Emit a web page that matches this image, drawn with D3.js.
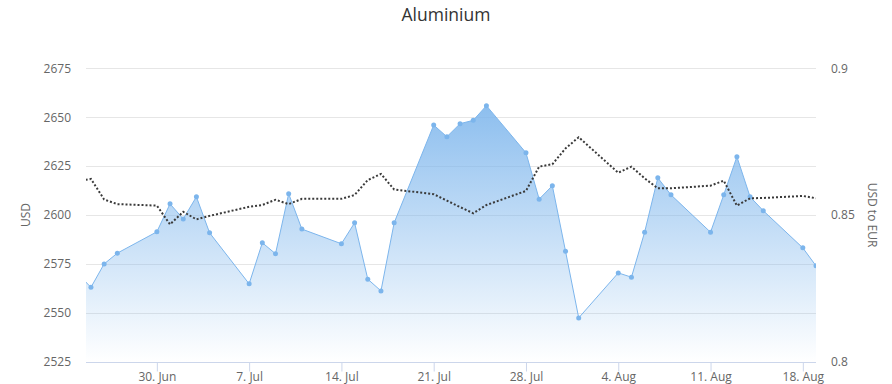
<!DOCTYPE html>
<html>
<head>
<meta charset="utf-8">
<script src="https://cdn.jsdelivr.net/npm/d3@7"></script>
<style>
  html, body { margin: 0; padding: 0; background: #fff; }
  svg { display: block; font-family: "Open Sans", "DejaVu Sans", sans-serif; }
</style>
</head>
<body>
<svg id="chart" width="892" height="384"></svg>
<script>
const dates = ["2025-06-24","2025-06-25","2025-06-26","2025-06-27","2025-06-30",
  "2025-07-01","2025-07-02","2025-07-03","2025-07-04","2025-07-07","2025-07-08","2025-07-09","2025-07-10","2025-07-11",
  "2025-07-14","2025-07-15","2025-07-16","2025-07-17","2025-07-18","2025-07-21","2025-07-22","2025-07-23","2025-07-24","2025-07-25",
  "2025-07-28","2025-07-29","2025-07-30","2025-07-31","2025-08-01","2025-08-04","2025-08-05","2025-08-06","2025-08-07","2025-08-08",
  "2025-08-11","2025-08-12","2025-08-13","2025-08-14","2025-08-15","2025-08-18","2025-08-19"];
const aluminiumUSD = [2570,2563,2575,2580.5,2591.4,
  2605.7,2598,2609.3,2590.9,2564.8,2585.8,2580.2,2610.9,2592.8,
  2585.3,2596,2567.2,2561.2,2596,2646,2640,2646.7,2648.4,2655.9,
  2631.8,2608.1,2615,2581.5,2547.4,2570.4,2568.2,2591.2,2619,2610.3,
  2591.2,2610.3,2629.8,2609.3,2602.2,2583.2,2574];
const usdToEur = [0.8615,0.8623,0.8553,0.8537,0.8532,
  0.8468,0.8511,0.8485,0.8497,0.8528,0.8534,0.8552,0.8537,0.8555,
  0.8555,0.8568,0.8619,0.8640,0.8587,0.8571,0.8549,0.8527,0.8506,0.8534,
  0.8582,0.8665,0.8673,0.8727,0.8765,0.8644,0.8665,0.8625,0.8591,0.8591,
  0.8600,0.8617,0.8532,0.8557,0.8558,0.8565,0.8557];
const leftTicks = [2525,2550,2575,2600,2625,2650,2675];
const rightTicks = [0.8,0.85,0.9];
const xTickDates = ["2025-06-30","2025-07-07","2025-07-14","2025-07-21","2025-07-28","2025-08-04","2025-08-11","2025-08-18"];
const xTickLabels = ["30. Jun","7. Jul","14. Jul","21. Jul","28. Jul","4. Aug","11. Aug","18. Aug"];

const parse = d3.utcParse("%Y-%m-%d");
const data = dates.map((d,i) => ({date: parse(d), al: aluminiumUSD[i], fx: usdToEur[i]}));

const svg = d3.select("#chart");
const L = 86, R = 816, T = 68.3, B = 361.7;

const x = d3.scaleUtc()
  .domain([new Date(Date.UTC(2025,5,24,15)), new Date(Date.UTC(2025,7,19,0))])
  .range([L, R]);
const y = d3.scaleLinear().domain([2525, 2675]).range([B, T]);
const y2 = d3.scaleLinear().domain([0.8, 0.9]).range([B, T]);

const defs = svg.append("defs");
const grad = defs.append("linearGradient").attr("id","areaGrad")
  .attr("gradientUnits","userSpaceOnUse").attr("x1",0).attr("x2",0).attr("y1",T).attr("y2",B);
grad.append("stop").attr("offset","0%").attr("stop-color","#7cb5ec").attr("stop-opacity",1);
grad.append("stop").attr("offset","100%").attr("stop-color","#7cb5ec").attr("stop-opacity",0);
defs.append("clipPath").attr("id","plotClip").append("rect")
  .attr("x",L).attr("y",T-10).attr("width",R-L).attr("height",B-T+10);

// title
svg.append("text").attr("x",446).attr("y",21).attr("text-anchor","middle")
  .attr("font-size",17.5).attr("fill","#333333").text("Aluminium");

// gridlines
const grid = svg.append("g");
leftTicks.forEach(t => {
  if (t === 2525) return;
  grid.append("line").attr("x1",L).attr("x2",R)
    .attr("y1",Math.round(y(t))+0.5).attr("y2",Math.round(y(t))+0.5)
    .attr("stroke","#e6e6e6").attr("stroke-width",1);
});

// left axis labels
const leftAxis = d3.axisLeft(y).tickValues(leftTicks).tickSize(0).tickPadding(15).tickFormat(d3.format("d"));
const gL = svg.append("g").attr("transform",`translate(${L},0)`).call(leftAxis);
gL.select(".domain").remove();
gL.selectAll("text").attr("font-size",12).attr("fill","#666666").attr("font-family","Open Sans, sans-serif");

// right axis labels
const rightAxis = d3.axisRight(y2).tickValues(rightTicks).tickSize(0).tickPadding(15).tickFormat(d => d3.format("")(d));
const gR = svg.append("g").attr("transform",`translate(${R},0)`).call(rightAxis);
gR.select(".domain").remove();
gR.selectAll("text").attr("font-size",12).attr("fill","#666666").attr("font-family","Open Sans, sans-serif");

// x axis
const xAxis = d3.axisBottom(x).tickValues(xTickDates.map(parse)).tickSize(9).tickPadding(1)
  .tickFormat((d,i) => xTickLabels[i]);
const gX = svg.append("g").attr("transform",`translate(0,${Math.round(B)+0.5})`).call(xAxis);
gX.select(".domain").attr("stroke","#ccd6eb").attr("d",`M${L},0H${R}`);
gX.selectAll(".tick line").attr("stroke","#ccd6eb");
gX.selectAll("text").attr("font-size",12).attr("fill","#666666").attr("font-family","Open Sans, sans-serif");

// axis titles
svg.append("text").attr("transform",`translate(30,${(T+B)/2}) rotate(-90)`)
  .attr("text-anchor","middle").attr("font-size",12).attr("fill","#666666").text("USD");
svg.append("text").attr("transform",`translate(868,${(T+B)/2}) rotate(90)`)
  .attr("text-anchor","middle").attr("font-size",12).attr("fill","#666666").text("USD to EUR");

const plot = svg.append("g").attr("clip-path","url(#plotClip)");

const area = d3.area().x(d => x(d.date)).y0(B).y1(d => y(d.al));
plot.append("path").datum(data).attr("d",area).attr("fill","url(#areaGrad)");
const line = d3.line().x(d => x(d.date)).y(d => y(d.al));
plot.append("path").datum(data).attr("d",line).attr("fill","none").attr("stroke","#7cb5ec").attr("stroke-width",1);
plot.selectAll("circle.m").data(data).enter().append("circle").attr("class","m")
  .attr("cx",d => x(d.date)).attr("cy",d => y(d.al)).attr("r",2.5).attr("fill","#7cb5ec");

const line2 = d3.line().x(d => x(d.date)).y(d => y2(d.fx));
plot.append("path").datum(data).attr("d",line2).attr("fill","none")
  .attr("stroke","#3a3a3a").attr("stroke-width",2).attr("stroke-dasharray","2,2");
</script>
</body>
</html>
